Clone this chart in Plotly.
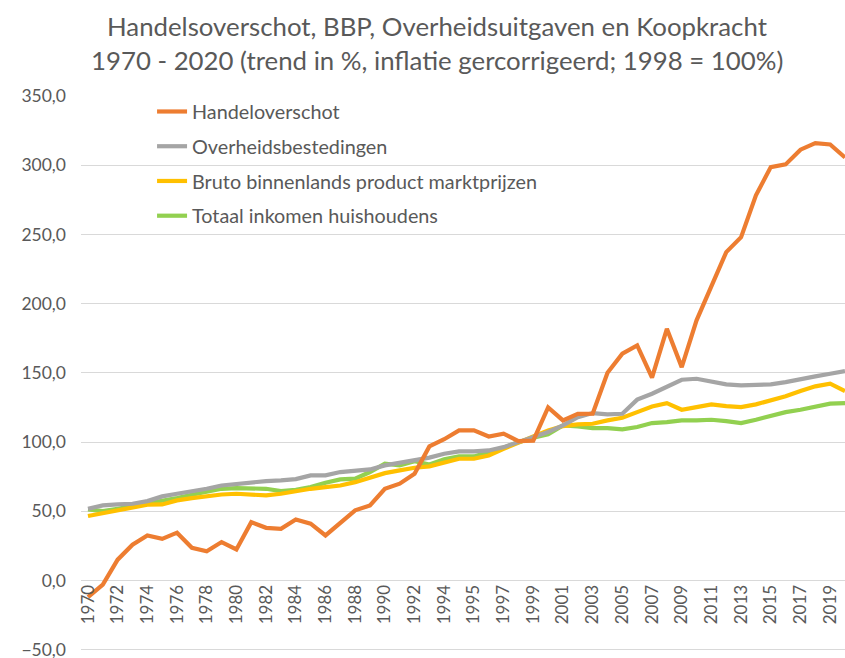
import plotly.graph_objects as go

# Category labels (the source data contains 1995 twice: a revision break)
years = [str(y) for y in range(1970, 1995)] + ["1995", "1995"] + [str(y) for y in range(1996, 2021)]

handelsoverschot = [
    -12, -3, 15, 25.8, 32.5, 30, 34.5, 23.6, 21, 27.7,
    22.4, 42.1, 38, 37.3, 44, 41, 32.5, 41.7, 50.6, 54.2,
    66.2, 69.9, 77, 96.8, 102, 108.4, 108.4, 104, 106, 100.7,
    101, 125, 115.6, 120.4, 120.5, 150, 163.8, 169.8, 146.5, 181.8,
    154.1, 187.9, 213.2, 237.2, 248, 278.2, 298.6, 300.6, 311.2, 316,
    315, 305.6,
]
overheid = [
    51.8, 54.2, 54.9, 55.4, 57.3, 60.7, 62.6, 64.3, 66.2, 68.6,
    69.9, 71, 71.8, 72.3, 73.2, 75.9, 75.9, 78.3, 79.5, 80.2,
    83.1, 84.8, 86.7, 88.7, 91.5, 93.2, 93.2, 93.9, 96.3, 99.9,
    103.1, 107.2, 112, 118, 120.9, 120, 120.4, 130.6, 134.9, 139.7,
    145, 145.7, 144, 141.6, 140.9, 140.9, 141.6, 143.3, 145, 147.4,
    149.3, 151.2,
]
bbp = [
    46.5, 48.6, 50.1, 52.3, 54.7, 54.9, 57.8, 59.5, 60.9, 62.1,
    62.6, 62.1, 61.4, 62.6, 64.5, 66.2, 67.4, 68.6, 71, 74.2,
    77.5, 79.5, 81.4, 82.4, 85, 87.9, 87.9, 90.3, 95.1, 99.9,
    104, 108.4, 111.5, 112.7, 113.2, 115.6, 117.5, 121.6, 125.7, 128.1,
    123.3, 125.2, 127.2, 125.9, 125.2, 127.2, 130, 133, 136.8, 140.2,
    142.1, 136.8,
]
inkomen = [
    51.3, 50.1, 51.8, 53.7, 55.4, 57.3, 59.5, 61.9, 64.3, 66.2,
    66.7, 66.2, 66.2, 64.5, 65.5, 67.4, 70.6, 73, 73.5, 78.3,
    84.3, 83.1, 86.2, 83.8, 87.5, 89.6, 89.6, 92.7, 95.9, 99.9,
    103.1, 105.5, 112, 111.3, 110, 110, 109.1, 110.8, 113.7, 114.4,
    115.6, 115.6, 116.1, 115.1, 113.7, 116.1, 119.2, 121.6, 123.3, 125.7,
    127.7, 128.1,
]

series_names = [
    "Handeloverschot",
    "Overheidsbestedingen",
    "Bruto binnenlands product marktprijzen",
    "Totaal inkomen huishoudens",
]
series_values = [handelsoverschot, overheid, bbp, inkomen]
series_colors = ["#ED7D31", "#A5A5A5", "#FFC000", "#92D050"]

y_ticks = [-50, 0, 50, 100, 150, 200, 250, 300, 350]
y_range = [-51, 350]

title_lines = [
    "Handelsoverschot, BBP, Overheidsuitgaven en Koopkracht",
    "1970 - 2020 (trend in %, inflatie gercorrigeerd; 1998 = 100%)",
]

FONT = "Lato"
GREY = "#595959"

x_idx = list(range(len(years)))

fig = go.Figure()
# draw green first, orange last (on top), legend keeps series order
for i in [3, 2, 1, 0]:
    fig.add_trace(go.Scatter(
        x=x_idx, y=series_values[i], mode="lines", name=series_names[i],
        line=dict(color=series_colors[i], width=4.2),
        legendgroup=str(i), legendrank=i + 1,
    ))

fig.update_layout(
    width=845, height=658,
    margin=dict(l=81, r=0, t=96, b=6.6, autoexpand=False),
    paper_bgcolor="white", plot_bgcolor="white",
    separators=",.",
    font=dict(family=FONT, color=GREY, size=17),
    showlegend=True,
    legend=dict(
        x=0.093, y=1.007, xanchor="left", yanchor="top",
        bgcolor="rgba(0,0,0,0)", font=dict(size=19.8, color=GREY, family=FONT),
        tracegroupgap=6, traceorder="grouped",
    ),
    xaxis=dict(
        range=[-0.47, 51.0],
        tickmode="array", tickvals=x_idx[::2], ticktext=years[::2],
        tickangle=-90, ticks="", showgrid=False, zeroline=False, showline=False,
        anchor="free", position=(0 - y_range[0]) / (y_range[1] - y_range[0]),
        automargin=False,
        tickfont=dict(size=17, color=GREY, family=FONT),
    ),
    yaxis=dict(
        range=y_range, tickmode="array", tickvals=y_ticks, tickformat=".1f",
        showgrid=True, gridcolor="#D9D9D9", gridwidth=1.3, zeroline=False,
        ticks="", automargin=False, ticklabelstandoff=14,
        ticklabeloverflow="allow",
        tickfont=dict(size=17.5, color=GREY, family=FONT),
    ),
)

title_y = [1.127, 1.064]
for line, yy in zip(title_lines, title_y):
    fig.add_annotation(
        text=line, xref="paper", yref="paper", x=0.466, y=yy,
        xanchor="center", yanchor="middle", showarrow=False,
        font=dict(size=25.8, color=GREY, family=FONT),
    )

fig.write_html(
    "out.html",
    config={"displayModeBar": False},
    post_script="document.body.style.margin='0';document.body.style.overflow='hidden';",
)
